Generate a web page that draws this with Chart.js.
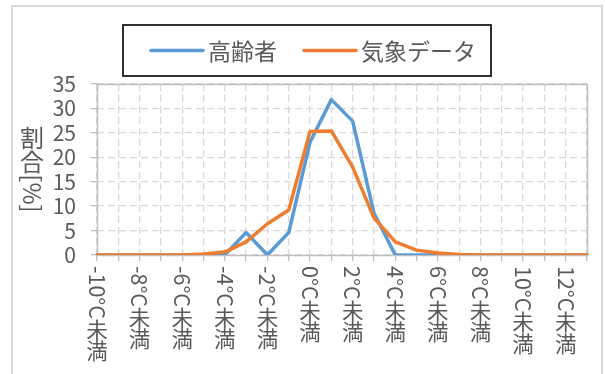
<!DOCTYPE html>
<html lang="ja">
<head>
<meta charset="utf-8">
<title>気温別の割合</title>
<script src="https://cdn.jsdelivr.net/npm/chart.js@4/dist/chart.umd.min.js"></script>
<style>
  html, body { margin: 0; padding: 0; background: #ffffff; }
  #wrap { width: 605px; height: 374px; }
</style>
</head>
<body>
<div id="wrap"><canvas id="chart" width="605" height="374"></canvas></div>
<script>
// Temperature bands (x axis categories)
const categories = [
  '-10°C未満', '-9°C未満', '-8°C未満', '-7°C未満', '-6°C未満', '-5°C未満',
  '-4°C未満', '-3°C未満', '-2°C未満', '-1°C未満', '0°C未満', '1°C未満',
  '2°C未満', '3°C未満', '4°C未満', '5°C未満', '6°C未満', '7°C未満',
  '8°C未満', '9°C未満', '10°C未満', '11°C未満', '12°C未満', '13°C未満'
];

// Share [%] per band
const elderly = [0, 0, 0, 0, 0, 0, 0, 4.6, 0, 4.6, 23.1, 31.8, 27.4, 8.6, 0, 0, 0, 0, 0, 0, 0, 0, 0, 0];
const weather = [0, 0, 0, 0, 0, 0.2, 0.6, 2.7, 6.4, 9.2, 25.3, 25.4, 18.0, 7.6, 2.7, 1.0, 0.4, 0.1, 0, 0, 0, 0, 0, 0];

const seriesNames = ['高齢者', '気象データ'];
const yTicks = [0, 5, 10, 15, 20, 25, 30, 35];
const yTitle = '割合[%]';

const FONT = '"Noto Sans CJK JP", "Noto Sans", sans-serif';
const TEXT = '#595959';
const GRID = '#d9d9d9';
const FRAME = '#bfbfbf';

const isCJK = ch => /[\u3000-\u9fff\uff00-\uffef]/.test(ch);

// Vertical text: CJK glyphs upright, other runs turned 90° clockwise
function verticalRuns(ctx, text, size) {
  const runs = [];
  let cur = '', curCJK = null;
  for (const ch of text) {
    const c = isCJK(ch);
    if (curCJK === null || c === curCJK) { cur += ch; curCJK = c; }
    else { runs.push({ text: cur, cjk: curCJK }); cur = ch; curCJK = c; }
  }
  if (cur) runs.push({ text: cur, cjk: curCJK });
  let total = 0;
  for (const r of runs) {
    r.len = r.cjk ? size * [...r.text].length : ctx.measureText(r.text).width;
    total += r.len;
  }
  return { runs, total };
}

function drawVertical(ctx, text, cx, top, size, color) {
  ctx.save();
  ctx.font = size + 'px ' + FONT;
  ctx.fillStyle = color;
  const { runs } = verticalRuns(ctx, text, size);
  let y = top;
  for (const r of runs) {
    if (r.cjk) {
      ctx.textAlign = 'center';
      ctx.textBaseline = 'middle';
      for (const ch of r.text) {
        ctx.fillText(ch, cx, y + size / 2);
        y += size;
      }
    } else {
      ctx.save();
      ctx.translate(cx, y);
      ctx.rotate(Math.PI / 2);
      ctx.textAlign = 'left';
      ctx.textBaseline = 'middle';
      ctx.fillText(r.text, 0, 0);
      ctx.restore();
      y += r.len;
    }
  }
  ctx.restore();
}

const decorations = {
  id: 'decorations',
  beforeDraw(chart) {
    const ctx = chart.ctx;
    ctx.save();
    ctx.fillStyle = '#ffffff';
    ctx.fillRect(0, 0, chart.width, chart.height);
    // outer chart border (open at the bottom edge of the canvas)
    ctx.strokeStyle = GRID;
    ctx.lineWidth = 2;
    ctx.strokeRect(12, 6, 590, 400);
    ctx.restore();
  },
  beforeDatasetsDraw(chart) {
    const { ctx, chartArea: a } = chart;
    ctx.save();
    ctx.strokeStyle = FRAME;
    ctx.lineWidth = 1.5;
    ctx.strokeRect(Math.round(a.left) + 0.5, Math.round(a.top) + 0.5,
      Math.round(a.right - a.left), Math.round(a.bottom - a.top));
    ctx.restore();
  },
  afterDraw(chart) {
    const ctx = chart.ctx;
    const xs = chart.scales.x;
    const ys = chart.scales.y;

    // x axis labels, every other band
    xs.ticks.forEach((t, i) => {
      if (i % 2 !== 0) return;
      const label = xs.getLabelForValue(t.value);
      drawVertical(ctx, label, xs.getPixelForTick(i), xs.top + 11, 21.5, TEXT);
    });

    // y axis title
    ctx.save();
    ctx.font = '24px ' + FONT;
    const { total } = verticalRuns(ctx, yTitle, 24);
    ctx.restore();
    const cy = (ys.top + ys.bottom) / 2;
    drawVertical(ctx, yTitle, 32, cy - total / 2, 24, TEXT);

    // legend with frame
    ctx.save();
    ctx.strokeStyle = '#1a1a1a';
    ctx.lineWidth = 1.8;
    ctx.strokeRect(123, 25, 368, 51);
    ctx.font = '23px ' + FONT;
    ctx.textBaseline = 'middle';
    ctx.textAlign = 'left';
    const items = chart.data.datasets;
    const starts = [151, 304];
    items.forEach((ds, i) => {
      const x0 = starts[i];
      ctx.strokeStyle = ds.borderColor;
      ctx.lineWidth = 3.5;
      ctx.lineCap = 'round';
      ctx.beginPath();
      ctx.moveTo(x0, 50.5);
      ctx.lineTo(x0 + 52, 50.5);
      ctx.stroke();
      ctx.fillStyle = TEXT;
      ctx.fillText(ds.label, x0 + 57, 51);
    });
    ctx.restore();
  }
};

new Chart(document.getElementById('chart'), {
  type: 'line',
  data: {
    labels: categories,
    datasets: [
      {
        label: seriesNames[0],
        data: elderly,
        borderColor: '#5B9BD5',
        backgroundColor: '#5B9BD5',
        borderWidth: 3.5,
        pointRadius: 0,
        tension: 0,
        borderJoinStyle: 'round',
        borderCapStyle: 'round',
        order: 2
      },
      {
        label: seriesNames[1],
        data: weather,
        borderColor: '#ED7D31',
        backgroundColor: '#ED7D31',
        borderWidth: 3.5,
        pointRadius: 0,
        tension: 0,
        borderJoinStyle: 'round',
        borderCapStyle: 'round',
        order: 1
      }
    ]
  },
  options: {
    responsive: false,
    animation: false,
    devicePixelRatio: 1,
    layout: { padding: { left: 0, right: 18, top: 84, bottom: 0 } },
    plugins: {
      legend: { display: false },
      tooltip: { enabled: false },
      title: { display: false }
    },
    scales: {
      x: {
        offset: false,
        ticks: { display: false, autoSkip: false },
        grid: {
          color: GRID,
          lineWidth: 1.3,
          drawTicks: true,
          tickLength: 6,
          tickColor: FRAME,
          tickWidth: 1.3
        },
        border: { display: false, dash: [7, 4] },
        afterFit(scale) { scale.height = 119; }
      },
      y: {
        min: 0,
        max: 35,
        afterBuildTicks(scale) { scale.ticks = yTicks.map(v => ({ value: v })); },
        ticks: {
          autoSkip: false,
          color: TEXT,
          font: { family: FONT, size: 21 },
          padding: 15
        },
        grid: {
          color: GRID,
          lineWidth: 1.3,
          drawTicks: true,
          tickLength: 6,
          tickColor: FRAME,
          tickWidth: 1.3
        },
        border: { display: false, dash: [7, 4] },
        afterFit(scale) { scale.width = 97; }
      }
    }
  },
  plugins: [decorations]
});
</script>
</body>
</html>
